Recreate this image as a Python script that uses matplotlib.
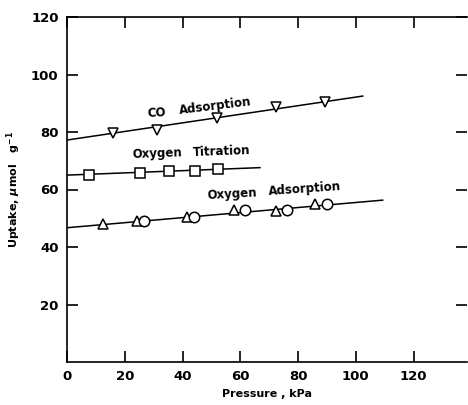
import matplotlib.pyplot as plt

# ==========================================================
# Data
# ==========================================================

co_p = [15.9, 31.1, 51.9, 72.3, 89.3]
co_uptake = [79.6, 80.6, 84.8, 88.6, 90.3]
co_fit_p = [0, 102.4]
co_fit_uptake = [77.2, 92.5]

tit_p = [7.6, 25.3, 35.3, 44.3, 52.2]
tit_uptake = [65.0, 65.6, 66.6, 66.6, 67.0]
tit_fit_p = [0, 66.8]
tit_fit_uptake = [65.0, 67.6]

ox_tri_p = [12.5, 24.2, 41.5, 57.8, 72.3, 85.8]
ox_tri_uptake = [47.9, 48.9, 50.6, 53.0, 52.6, 54.8]
ox_circ_p = [26.6, 43.9, 61.6, 76.1, 90.0]
ox_circ_uptake = [49.0, 50.4, 52.9, 53.0, 55.0]
ox_fit_p = [0, 109.3]
ox_fit_uptake = [46.7, 56.3]

x_ticks = [0, 20, 40, 60, 80, 100, 120]
y_ticks = [20, 40, 60, 80, 100, 120]

# ==========================================================
# Figure
# ==========================================================

plt.rcParams["font.family"] = "DejaVu Sans"
plt.rcParams["font.weight"] = "bold"

fig = plt.figure(figsize=(4.68, 4.05), dpi=100)
ax = fig.add_axes([67 / 468, 1 - 362 / 405, 400 / 468, 345 / 405])

line_kw = dict(color="black", linewidth=1.1)
mk_kw = dict(linestyle="none", markerfacecolor="white",
             markeredgecolor="black", markeredgewidth=1.1, zorder=3)

ax.plot(co_fit_p, co_fit_uptake, **line_kw)
ax.plot(co_p, co_uptake, marker="v", markersize=7, **mk_kw)

ax.plot(tit_fit_p, tit_fit_uptake, **line_kw)
ax.plot(tit_p, tit_uptake, marker="s", markersize=7, **mk_kw)

ax.plot(ox_fit_p, ox_fit_uptake, **line_kw)
ax.plot(ox_tri_p, ox_tri_uptake, marker="^", markersize=7, **mk_kw)
ax.plot(ox_circ_p, ox_circ_uptake, marker="o", markersize=7.5, **mk_kw)

# curve labels
txt_kw = dict(fontsize=8.5, fontweight="bold", ha="left", va="baseline")
ax.text(27.5, 85.3, "CO", rotation=3, **txt_kw)
ax.text(38.5, 86.4, "Adsorption", rotation=7, **txt_kw)
ax.text(22.5, 71.0, "Oxygen", rotation=2, **txt_kw)
ax.text(43.5, 71.5, "Titration", rotation=2, **txt_kw)
ax.text(48.5, 56.6, "Oxygen", rotation=3, **txt_kw)
ax.text(69.5, 58.0, "Adsorption", rotation=4, **txt_kw)

# axes styling
ax.set_xlim(0, 138.5)
ax.set_ylim(0, 120)
ax.set_xticks(x_ticks)
ax.set_yticks(y_ticks)
ax.tick_params(direction="in", length=8, width=1.2,
               top=True, right=True, labelsize=9.5, pad=6)
for lbl in ax.get_xticklabels() + ax.get_yticklabels():
    lbl.set_fontweight("bold")

ax.spines["right"].set_visible(False)
for s in ["left", "bottom", "top"]:
    ax.spines[s].set_linewidth(1.2)

ax.set_xlabel("Pressure , kPa", fontsize=8, fontweight="bold", labelpad=4)
ax.set_ylabel(r"Uptake, $\mu$mol   g$^{-1}$", fontsize=8,
              fontweight="bold", labelpad=6)

fig.savefig("out.png", dpi=100)
plt.close(fig)
